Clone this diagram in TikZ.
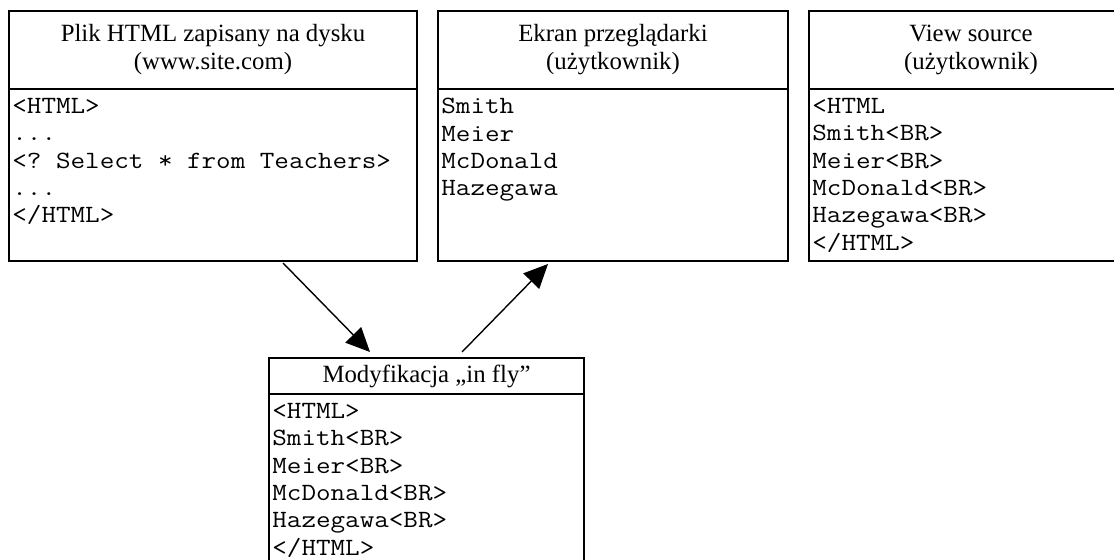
\documentclass[tikz,border=0pt]{standalone}
\usepackage{fontspec}
\setmainfont{Liberation Serif}
\setmonofont{Latin Modern Mono}[FakeStretch=1.14]
\usetikzlibrary{positioning, arrows.meta}

\begin{document}
\begin{tikzpicture}[
        x=0.5pt, y=-0.5pt,
        head/.style={draw, line width=1pt, rectangle, outer sep=0pt, inner sep=0pt, align=center, font=\fontsize{12.4}{14}\selectfont},
        frame/.style={draw, line width=1pt, rectangle, outer sep=0pt, inner sep=0pt},
        code/.style={align=left, inner sep=0pt, font=\fontsize{12.4}{13.65}\ttfamily},
        arrow/.style={-{Triangle[length=12pt, width=11pt]}, line width=0.7pt}
    ]
    \path[use as bounding box, clip] (0,0) rectangle (1114,560);

    % plik na serwerze
    \node[head, anchor=north west, minimum width=204pt, minimum height=39pt] (disk) at (9,11) {Plik HTML zapisany na dysku\\(www.site.com)};
    \node[frame, below=0pt of disk, minimum width=204pt, minimum height=86pt] (diskbody) {};
    \node[code, below right=4.5pt and 1.5pt of diskbody.north west] (diskcode) {<HTML>\\...\\<? Select * from Teachers>\\...\\</HTML>};

    % co widzi przegladarka
    \node[head, anchor=north west, minimum width=175pt, minimum height=39pt] (screen) at (438,11) {Ekran przeglądarki\\(użytkownik)};
    \node[frame, below=0pt of screen, minimum width=175pt, minimum height=86pt] (screenbody) {};
    \node[code, below right=4.5pt and 1.5pt of screenbody.north west] (screencode) {Smith\\Meier\\McDonald\\Hazegawa};

    % zrodlo strony
    \node[head, anchor=north west, minimum width=162pt, minimum height=39pt] (source) at (809,11) {View source\\(użytkownik)};
    \node[frame, below=0pt of source, minimum width=162pt, minimum height=86pt] (sourcebody) {};
    \node[code, below right=4.5pt and 1.5pt of sourcebody.north west] (sourcecode) {<HTML\\Smith<BR>\\Meier<BR>\\McDonald<BR>\\Hazegawa<BR>\\</HTML>};

    % modyfikacja po drodze
    \node[head, anchor=north west, minimum width=157.5pt, minimum height=18pt] (fly) at (269,358) {Modyfikacja „in fly”};
    \node[frame, below=0pt of fly, minimum width=157.5pt, minimum height=110pt] (flybody) {};
    \node[code, below right=4.5pt and 1.5pt of flybody.north west] (flycode) {<HTML>\\Smith<BR>\\Meier<BR>\\McDonald<BR>\\Hazegawa<BR>\\</HTML>};

    \coordinate (out1) at (283,263);
    \coordinate (in1) at (370,352);
    \coordinate (out2) at (462,352);
    \coordinate (in2) at (548,264);

    \draw[arrow] (out1) -- (in1);
    \draw[arrow] (out2) -- (in2);
\end{tikzpicture}
\end{document}
